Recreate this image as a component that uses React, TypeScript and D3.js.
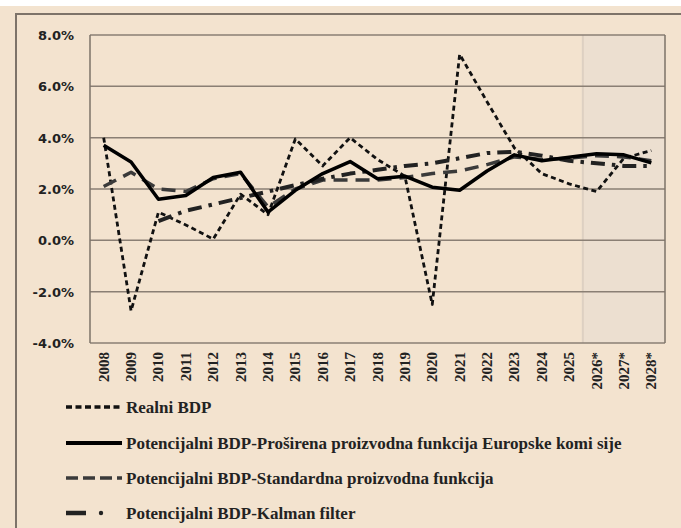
import React, { useEffect, useRef } from "react";
import * as d3 from "d3";

const years = ["2008", "2009", "2010", "2011", "2012", "2013", "2014", "2015", "2016", "2017", "2018",
  "2019", "2020", "2021", "2022", "2023", "2024", "2025", "2026*", "2027*", "2028*"];

const realni = [4.0, -2.75, 1.1, 0.6, 0.05, 1.8, 1.0, 3.95, 2.9, 4.0, 3.15, 2.5, -2.5, 7.25, 5.4, 3.6, 2.6, 2.2, 1.9, 3.2, 3.5];
const prosirena = [3.7, 3.05, 1.6, 1.75, 2.45, 2.65, 1.1, 1.95, 2.6, 3.07, 2.4, 2.5, 2.07, 1.95, 2.7, 3.33, 3.1, 3.24, 3.37, 3.33, 3.02];
const standardna = [2.1, 2.65, 2.0, 1.9, 2.4, 2.6, 1.3, 2.0, 2.35, 2.35, 2.35, 2.45, 2.6, 2.7, 2.95, 3.25, 3.15, 3.2, 3.3, 3.25, 3.1];
const kalman = [null, null, 0.75, 1.15, 1.4, 1.65, 1.9, 2.15, 2.4, 2.6, 2.75, 2.9, 3.0, 3.2, 3.4, 3.45, 3.3, 3.1, 3.0, 2.9, 2.9];

const yTicks = [-4, -2, 0, 2, 4, 6, 8];
const shadedFrom = "2026*";

const series = [
  { name: "Realni BDP", values: realni, color: "#111", width: 2.8, dash: "5,3.5" },
  { name: "Potencijalni BDP-Standardna proizvodna funkcija", values: standardna, color: "#3a3a3a", width: 3.5, dash: "14,8" },
  { name: "Potencijalni BDP-Kalman filter", values: kalman, color: "#222", width: 4, dash: "14,7,3.5,7" },
  { name: "Potencijalni BDP-Proširena proizvodna funkcija Europske komi sije", values: prosirena, color: "#000", width: 3.5, dash: null },
];

const legendOrder = [0, 3, 1, 2];

export default function App() {
  const ref = useRef<SVGSVGElement>(null);

  useEffect(() => {
    const svg = d3.select(ref.current);
    svg.selectAll("*").remove();

    const left = 90, right = 665, top = 35, bottom = 343;
    const x = d3.scaleBand().domain(years).range([left, right]).padding(0);
    const y = d3.scaleLinear().domain([-4, 8]).range([bottom, top]);
    const cx = (d: string) => (x(d) as number) + x.bandwidth() / 2;

    svg.append("rect").attr("width", 681).attr("height", 528).attr("fill", "#f3e3cf");
    svg.append("rect").attr("width", 681).attr("height", 6).attr("fill", "#fff");
    // outer frame
    svg.append("path").attr("d", "M16,540 L16,14 L690,14")
      .attr("fill", "none").attr("stroke", "#7d7369").attr("stroke-width", 2);

    // shaded forecast years
    svg.append("rect")
      .attr("x", x(shadedFrom) as number).attr("y", top)
      .attr("width", right - (x(shadedFrom) as number)).attr("height", bottom - top)
      .attr("fill", "#ecdfd0");
    svg.append("line")
      .attr("x1", x(shadedFrom) as number).attr("x2", x(shadedFrom) as number)
      .attr("y1", top).attr("y2", bottom).attr("stroke", "#ddd0c2").attr("stroke-width", 2);

    // gridlines
    svg.selectAll(".grid").data(yTicks).join("line").attr("class", "grid")
      .attr("x1", left).attr("x2", right)
      .attr("y1", d => y(d)).attr("y2", d => y(d))
      .attr("stroke", "#8a7f74").attr("stroke-width", 1.5);
    svg.append("line").attr("x1", left).attr("x2", left).attr("y1", top).attr("y2", bottom)
      .attr("stroke", "#7d7369").attr("stroke-width", 1.5);
    svg.append("line").attr("x1", right).attr("x2", right).attr("y1", top).attr("y2", bottom)
      .attr("stroke", "#7d7369").attr("stroke-width", 1.5);

    // y labels
    svg.selectAll(".ylab").data(yTicks).join("text").attr("class", "ylab")
      .attr("x", 74).attr("y", d => y(d) + 5)
      .attr("text-anchor", "end")
      .attr("font-family", "DejaVu Sans").attr("font-weight", "bold").attr("font-size", 13)
      .attr("fill", "#222")
      .text(d => d.toFixed(1) + "%");

    // x labels
    svg.selectAll(".xlab").data(years).join("text").attr("class", "xlab")
      .attr("transform", d => `translate(${cx(d) + 5},${bottom + 9}) rotate(-90)`)
      .attr("text-anchor", "end")
      .attr("font-family", "Liberation Serif").attr("font-weight", "bold").attr("font-size", 15)
      .attr("fill", "#222")
      .text(d => d);

    // lines
    series.forEach(s => {
      const line = d3.line<number | null>()
        .defined(v => v !== null)
        .x((_, i) => cx(years[i]))
        .y(v => y(v as number));
      svg.append("path").datum(s.values)
        .attr("d", line)
        .attr("fill", "none")
        .attr("stroke", s.color)
        .attr("stroke-width", s.width)
        .attr("stroke-dasharray", s.dash)
        .attr("stroke-linejoin", "round");
    });

    // legend
    const legendY = [407, 443, 478, 513];
    legendOrder.forEach((si, k) => {
      const s = series[si];
      const g = svg.append("g").attr("transform", `translate(0,${legendY[k]})`);
      if (si === 2) {
        g.append("line").attr("x1", 66).attr("x2", 86).attr("y1", 0).attr("y2", 0)
          .attr("stroke", s.color).attr("stroke-width", 4.5);
        g.append("circle").attr("cx", 101).attr("cy", 0).attr("r", 2.2).attr("fill", s.color);
      } else {
        g.append("line").attr("x1", 66).attr("x2", 122).attr("y1", 0).attr("y2", 0)
          .attr("stroke", s.color)
          .attr("stroke-width", si === 3 ? 4 : 3.5)
          .attr("stroke-dasharray", si === 0 ? "6,3.5" : si === 1 ? "12,5" : null);
      }
      g.append("text").attr("x", 126).attr("y", 5.5)
        .attr("font-family", "Liberation Serif").attr("font-weight", "bold").attr("font-size", 17)
        .attr("fill", "#222")
        .text(s.name);
    });
  }, []);

  return (
    <svg ref={ref} width={681} height={528}
      style={{ position: "absolute", left: 0, top: 0, display: "block" }} />
  );
}
